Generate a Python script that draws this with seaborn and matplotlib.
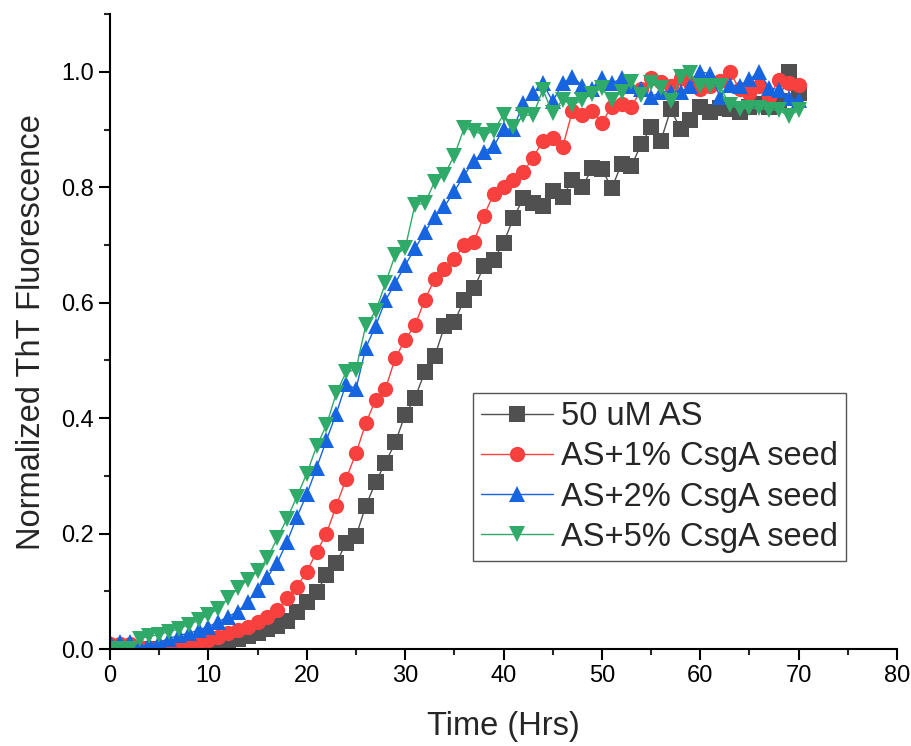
import numpy as np
import pandas as pd
import matplotlib
matplotlib.use("Agg")
import matplotlib.pyplot as plt
from matplotlib.ticker import MultipleLocator
import seaborn as sns

# Time in hours, one reading per hour
hours = list(range(0, 71))

labels = ["50 uM AS", "AS+1% CsgA seed", "AS+2% CsgA seed", "AS+5% CsgA seed"]
colors = ["#505050", "#F8403F", "#1764E0", "#2FAA68"]
markers = ["s", "o", "^", "v"]

as_only = [0, 0, 0, 0, 0, 0, 0, 0, 0.002, 0.004,
           0.007, 0.01, 0.014, 0.018, 0.022, 0.028, 0.034, 0.04, 0.048, 0.065,
           0.082, 0.099, 0.128, 0.149, 0.184, 0.195, 0.248, 0.289, 0.323, 0.358,
           0.406, 0.435, 0.48, 0.507, 0.559, 0.567, 0.605, 0.625, 0.663, 0.674,
           0.704, 0.746, 0.781, 0.772, 0.768, 0.794, 0.783, 0.813, 0.8, 0.833,
           0.832, 0.798, 0.841, 0.837, 0.875, 0.904, 0.881, 0.935, 0.901, 0.917,
           0.94, 0.931, 0.937, 0.935, 0.931, 0.94, 0.945, 0.94, 0.95, 1.0,
           0.963]

seed_1 = [0.008, 0.008, 0.008, 0.003, 0.002, 0.003, 0.005, 0.007, 0.01, 0.013,
          0.016, 0.021, 0.027, 0.033, 0.039, 0.047, 0.056, 0.068, 0.088, 0.108,
          0.134, 0.168, 0.2, 0.248, 0.295, 0.339, 0.391, 0.432, 0.451, 0.504,
          0.536, 0.561, 0.605, 0.641, 0.658, 0.676, 0.7, 0.706, 0.751, 0.788,
          0.8, 0.813, 0.826, 0.851, 0.881, 0.885, 0.869, 0.932, 0.925, 0.932,
          0.912, 0.94, 0.944, 0.939, 0.97, 0.989, 0.983, 0.975, 0.989, 0.98,
          0.97, 0.975, 0.985, 1.0, 0.97, 0.963, 0.975, 0.957, 0.986, 0.98,
          0.977]

seed_2 = [0.013, 0.013, 0.013, 0.004, 0.008, 0.012, 0.018, 0.024, 0.027, 0.033,
          0.039, 0.047, 0.056, 0.065, 0.082, 0.102, 0.125, 0.149, 0.186, 0.229,
          0.268, 0.314, 0.362, 0.408, 0.46, 0.45, 0.522, 0.56, 0.604, 0.634,
          0.665, 0.694, 0.722, 0.749, 0.767, 0.793, 0.821, 0.846, 0.862, 0.871,
          0.901, 0.901, 0.946, 0.963, 0.98, 0.949, 0.98, 0.992, 0.976, 0.97,
          0.989, 0.98, 0.989, 0.975, 0.97, 0.957, 0.965, 0.966, 0.966, 0.975,
          1.0, 0.997, 0.957, 0.977, 0.975, 0.987, 1.0, 0.972, 0.969, 0.954,
          0.951]

seed_5 = [0, 0, 0, 0.018, 0.022, 0.025, 0.03, 0.035, 0.042, 0.05,
          0.059, 0.07, 0.088, 0.105, 0.12, 0.135, 0.157, 0.192, 0.226, 0.264,
          0.304, 0.351, 0.388, 0.443, 0.48, 0.484, 0.561, 0.585, 0.634, 0.683,
          0.694, 0.77, 0.772, 0.81, 0.822, 0.855, 0.903, 0.898, 0.89, 0.898,
          0.926, 0.905, 0.925, 0.925, 0.969, 0.928, 0.952, 0.943, 0.951, 0.962,
          0.972, 0.951, 0.966, 0.983, 0.96, 0.98, 0.972, 0.949, 0.992, 0.998,
          0.975, 0.975, 0.975, 0.942, 0.936, 0.937, 0.937, 0.934, 0.934, 0.923,
          0.934]


def build_frame():
    parts = []
    for name, vals in zip(labels, [as_only, seed_1, seed_2, seed_5]):
        parts.append(pd.DataFrame({"Time": hours, "ThT": vals, "Sample": name}))
    return pd.concat(parts, ignore_index=True)


def main():
    df = build_frame()

    sns.set_style("ticks")
    plt.rcParams["font.family"] = ["Liberation Sans", "DejaVu Sans"]

    fig = plt.figure(figsize=(9.12, 7.46), dpi=100)
    ax = fig.add_axes([0.1206, 0.130, 0.863, 0.851])

    sns.lineplot(data=df, x="Time", y="ThT", hue="Sample", style="Sample",
                 hue_order=labels, style_order=labels, palette=colors,
                 markers=markers, dashes=False, markersize=11,
                 markeredgewidth=0, linewidth=1.0, ax=ax)

    ax.set_xlim(0, 80)
    ax.set_ylim(0, 1.1)
    ax.xaxis.set_major_locator(MultipleLocator(10))
    ax.xaxis.set_minor_locator(MultipleLocator(5))
    ax.yaxis.set_major_locator(MultipleLocator(0.2))
    ax.yaxis.set_minor_locator(MultipleLocator(0.1))
    ax.yaxis.set_major_formatter(matplotlib.ticker.FormatStrFormatter("%.1f"))
    ax.tick_params(which="major", direction="out", length=8, width=1.5,
                   labelsize=17, colors="black")
    ax.tick_params(which="minor", direction="out", length=4, width=1.5)

    for side in ["top", "right"]:
        ax.spines[side].set_visible(False)
    for side in ["left", "bottom"]:
        ax.spines[side].set_linewidth(1.5)
        ax.spines[side].set_color("black")

    ax.set_xlabel("Time (Hrs)", fontsize=23.5, labelpad=17)
    ax.set_ylabel("Normalized ThT Fluorescence", fontsize=23.5, labelpad=10)

    leg = ax.legend(loc="upper left", bbox_to_anchor=(0.461, 0.403),
                    fontsize=23.5, frameon=True, fancybox=False,
                    edgecolor="#555555", framealpha=1, labelspacing=0.28,
                    handlelength=2.2, handletextpad=0.25, borderpad=0.25,
                    borderaxespad=0)
    leg.get_frame().set_linewidth(1.0)

    fig.savefig("out.png", dpi=100)
    plt.close(fig)


if __name__ == "__main__":
    main()
